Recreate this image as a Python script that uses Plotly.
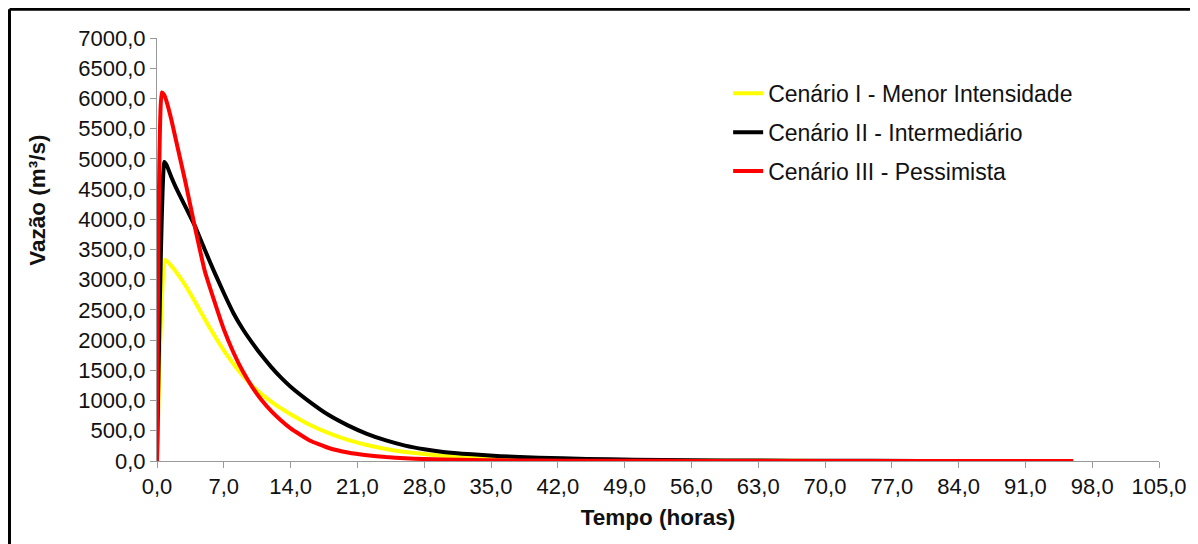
import plotly.graph_objects as go

# Cenário I - Menor Intensidade
tempo_I = [0, 0.85, 1.5, 2, 3, 4, 5, 6, 7, 8, 9, 10, 11, 12, 13, 14, 16, 18, 20, 22,
           24, 26, 28, 30, 33, 36, 40, 45, 50, 56, 63, 70, 80, 96]
vazao_I = [0, 3330, 3230, 3130, 2900, 2630, 2350, 2080, 1830, 1610, 1410, 1240, 1100, 980,
           870, 775, 600, 460, 350, 265, 200, 150, 115, 88, 60, 42, 27, 16, 10, 6, 3, 2, 1, 0.5]

# Cenário II - Intermediário
tempo_II = [0, 0.77, 1, 1.5, 2, 3, 4, 5, 6, 7, 8, 9, 10, 11, 12, 13, 14, 16, 18, 20, 22,
            24, 26, 28, 30, 33, 36, 40, 45, 50, 56, 63, 70, 80, 90, 96]
vazao_II = [0, 4950, 4900, 4700, 4520, 4200, 3880, 3500, 3130, 2780, 2450, 2180, 1950, 1740,
            1550, 1380, 1230, 980, 760, 590, 450, 340, 255, 195, 150, 110, 80, 55, 35, 22, 13,
            7, 4, 2, 1, 0.5]

# Cenário III - Pessimista
tempo_III = [0, 0.5, 0.75, 1, 1.5, 2, 3, 4, 5, 6, 7, 8, 9, 10, 11, 12, 13, 14, 16, 18, 20,
             22, 24, 26, 28, 30, 33, 36, 40, 45, 50, 56, 63, 70, 80, 96]
vazao_III = [0, 6100, 6060, 5950, 5650, 5300, 4600, 3850, 3150, 2650, 2180, 1800, 1480, 1220,
             1000, 820, 670, 540, 340, 215, 140, 95, 65, 45, 32, 24, 16, 11, 7, 4, 3, 2, 1, 1,
             0.5, 0.3]

nomes = ["Cenário I - Menor Intensidade", "Cenário II - Intermediário", "Cenário III - Pessimista"]
cores = ["#FFFF00", "#000000", "#FF0000"]

fig = go.Figure()
series = [(tempo_I, vazao_I), (tempo_II, vazao_II), (tempo_III, vazao_III)]
for i, (t, q) in enumerate(series):
    fig.add_trace(go.Scatter(x=t, y=q, mode="lines", name=nomes[i], legendgroup=str(i),
                             line=dict(color=cores[i], width=4, shape="spline", smoothing=0.4)))

font = "Liberation Sans, Arial, sans-serif"
fig.update_layout(
    width=1190, height=536,
    margin=dict(l=149, r=39, t=30, b=83),
    paper_bgcolor="white", plot_bgcolor="white",
    separators=",.",
    font=dict(family=font, size=22, color="#111"),
    showlegend=True,
    legend=dict(x=0.57, y=0.92, xanchor="left", yanchor="top", traceorder="grouped",
                tracegroupgap=6, font=dict(size=23), bgcolor="rgba(0,0,0,0)"),
    xaxis=dict(range=[0, 105], dtick=7, tick0=0, tickformat=".1f", showgrid=False,
               zeroline=False, showline=True, linecolor="#999", linewidth=1,
               ticks="outside", ticklen=6, tickcolor="#999",
               title=dict(text="<b>Tempo (horas)</b>", font=dict(size=22.5), standoff=10)),
    yaxis=dict(range=[0, 7000], dtick=500, tickformat=".1f", showgrid=False,
               zeroline=False, showline=True, linecolor="#999", linewidth=1,
               ticks="outside", ticklen=6, tickcolor="#999"),
)

# y title placed like the original (not centred on the axis)
fig.add_annotation(text="<b>Vazão (m³/s)</b>", textangle=-90, xref="paper", yref="paper",
                   x=-0.12, y=0.617, xanchor="center", yanchor="middle", showarrow=False,
                   font=dict(size=22.5))

# outer frame (top and left edges visible)
fig.add_shape(type="line", xref="paper", yref="paper", x0=-0.1472, x1=1.1, y0=1.068, y1=1.068,
              line=dict(color="black", width=3))
fig.add_shape(type="line", xref="paper", yref="paper", x0=-0.1472, x1=-0.1472, y0=1.068, y1=-0.4,
              line=dict(color="black", width=3))

fig.write_html("out.html")
